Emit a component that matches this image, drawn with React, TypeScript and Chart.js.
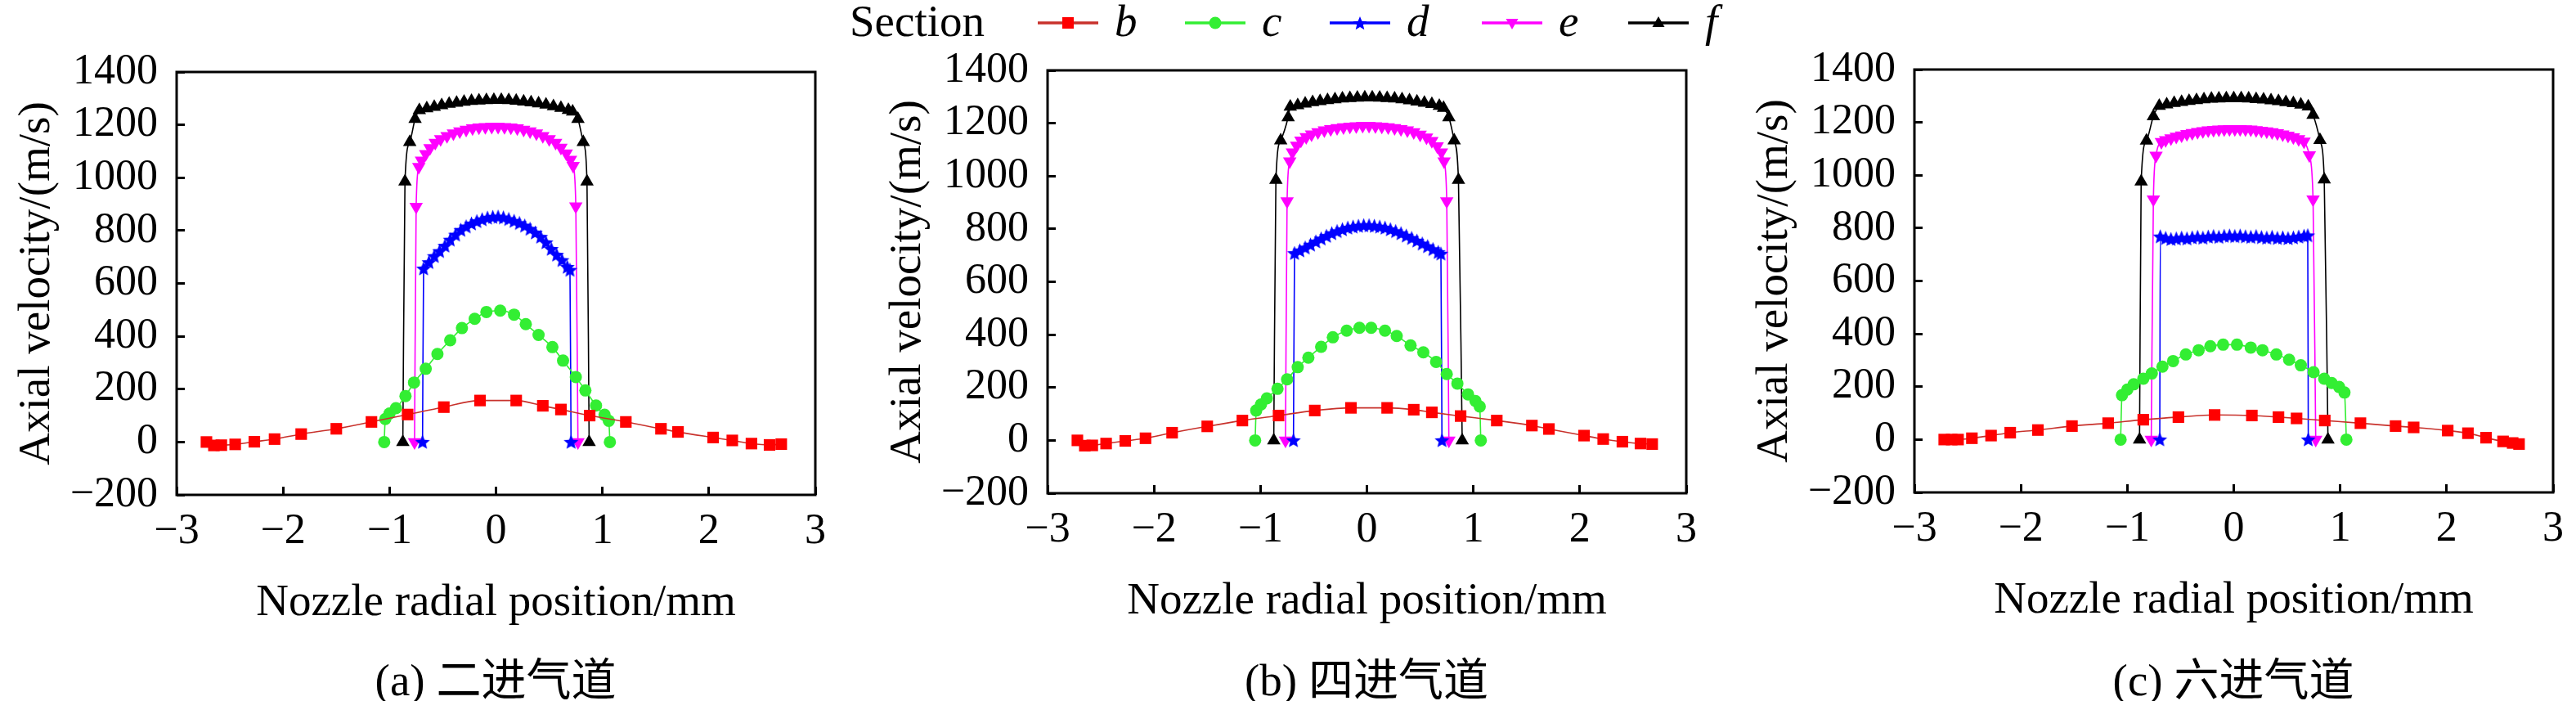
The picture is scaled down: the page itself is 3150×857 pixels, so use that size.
import { useEffect, useRef } from 'react';
import Chart from 'chart.js/auto';

const SERIF = "'Liberation Serif'";
const CJK = "'Noto Sans CJK SC'";

const sections = ['b', 'c', 'd', 'e', 'f'];
const captionTags = ['(a)', '(b)', '(c)'];
const captionNames = ['二进气道', '四进气道', '六进气道'];
const xTitle = 'Nozzle radial position/mm';
const yTitle = 'Axial velocity/(m/s)';

// ---- (a) 二进气道
const bX_a = [-2.72, -2.65, -2.58, -2.45, -2.27, -2.08, -1.83, -1.5, -1.17, -0.83, -0.49, -0.15, 0.19, 0.44, 0.61, 0.88, 1.22, 1.55, 1.71, 2.04, 2.22, 2.4, 2.57, 2.68];
const bY_a = [0, -13, -12, -9, 1, 11, 30, 50, 76, 104, 132, 157, 157, 137, 123, 100, 76, 50, 38, 17, 6, -6, -11, -8];
const cX_a = [-1.05, -1.04, -1.0, -0.94, -0.85, -0.77, -0.66, -0.55, -0.43, -0.32, -0.2, -0.09, 0.04, 0.17, 0.28, 0.4, 0.53, 0.63, 0.75, 0.84, 0.94, 1.02, 1.06, 1.07];
const cY_a = [0, 87, 108, 128, 174, 225, 277, 333, 385, 431, 466, 492, 497, 482, 446, 405, 359, 308, 246, 195, 138, 103, 80, 0];
const dX_a = [-0.69, -0.68, -0.63, -0.58, -0.53, -0.48, -0.43, -0.38, -0.33, -0.28, -0.23, -0.18, -0.13, -0.08, -0.03, 0.02, 0.07, 0.12, 0.17, 0.22, 0.27, 0.32, 0.37, 0.42, 0.47, 0.52, 0.57, 0.62, 0.67, 0.695, 0.705];
const dY_a = [0, 656, 680, 703, 722, 742, 765, 784, 802, 815, 826, 835, 842, 848, 851, 852, 849, 843, 836, 828, 818, 806, 792, 776, 755, 730, 708, 688, 662, 651, 0];
const eX_a = [-0.765, -0.75, -0.725, -0.7, -0.66, -0.62, -0.57, -0.52, -0.46, -0.4, -0.34, -0.28, -0.22, -0.16, -0.1, -0.04, 0.02, 0.08, 0.14, 0.2, 0.26, 0.32, 0.38, 0.44, 0.5, 0.56, 0.61, 0.66, 0.7, 0.725, 0.75, 0.77];
const eY_a = [0, 890, 1041, 1065, 1090, 1112, 1132, 1146, 1158, 1168, 1176, 1182, 1187, 1190, 1192, 1193, 1193, 1192, 1190, 1187, 1182, 1176, 1168, 1158, 1146, 1132, 1114, 1092, 1068, 1045, 892, 0];
const fX_a = [-0.875, -0.855, -0.81, -0.76, -0.72, -0.65, -0.58, -0.51, -0.44, -0.37, -0.3, -0.23, -0.16, -0.09, -0.02, 0.05, 0.12, 0.19, 0.26, 0.33, 0.4, 0.47, 0.54, 0.61, 0.68, 0.72, 0.77, 0.82, 0.855, 0.875];
const fY_a = [0, 985, 1135, 1222, 1255, 1262, 1268, 1274, 1279, 1283, 1287, 1290, 1292, 1293, 1294, 1294, 1293, 1291, 1288, 1285, 1281, 1276, 1270, 1264, 1256, 1250, 1222, 1135, 985, 0];

// ---- (b) 四进气道
const bX_b = [-2.72, -2.65, -2.58, -2.45, -2.27, -2.08, -1.83, -1.5, -1.17, -0.83, -0.49, -0.15, 0.19, 0.44, 0.61, 0.88, 1.22, 1.55, 1.71, 2.04, 2.22, 2.4, 2.57, 2.68];
const bY_b = [0, -20, -19, -12, -2, 8, 29, 53, 75, 94, 113, 123, 123, 116, 106, 92, 75, 56, 43, 18, 5, -5, -12, -14];
const cX_b = [-1.05, -1.04, -0.995, -0.94, -0.84, -0.75, -0.65, -0.55, -0.43, -0.32, -0.19, -0.07, 0.04, 0.17, 0.28, 0.41, 0.53, 0.65, 0.75, 0.85, 0.95, 1.02, 1.06, 1.07];
const cY_b = [0, 113, 136, 159, 195, 231, 277, 313, 354, 390, 415, 426, 426, 415, 395, 359, 333, 297, 251, 215, 174, 149, 128, 0];
const dX_b = [-0.69, -0.68, -0.63, -0.58, -0.53, -0.48, -0.43, -0.38, -0.33, -0.28, -0.23, -0.18, -0.13, -0.08, -0.03, 0.02, 0.07, 0.12, 0.17, 0.22, 0.27, 0.32, 0.37, 0.42, 0.47, 0.52, 0.57, 0.62, 0.67, 0.695, 0.705];
const dY_b = [0, 708, 718, 729, 740, 752, 763, 773, 783, 791, 798, 804, 808, 811, 813, 813, 811, 808, 804, 798, 791, 783, 774, 765, 755, 744, 734, 723, 712, 706, 0];
const eX_b = [-0.765, -0.75, -0.725, -0.7, -0.66, -0.62, -0.57, -0.52, -0.46, -0.4, -0.34, -0.28, -0.22, -0.16, -0.1, -0.04, 0.02, 0.08, 0.14, 0.2, 0.26, 0.32, 0.38, 0.44, 0.5, 0.56, 0.61, 0.66, 0.7, 0.725, 0.75, 0.77];
const eY_b = [0, 905, 1056, 1090, 1115, 1135, 1148, 1158, 1166, 1173, 1178, 1182, 1185, 1187, 1189, 1190, 1190, 1189, 1187, 1185, 1182, 1178, 1173, 1166, 1157, 1146, 1133, 1113, 1090, 1056, 905, 0];
const fX_b = [-0.875, -0.855, -0.81, -0.74, -0.72, -0.65, -0.58, -0.51, -0.44, -0.37, -0.3, -0.23, -0.16, -0.09, -0.02, 0.05, 0.12, 0.19, 0.26, 0.33, 0.4, 0.47, 0.54, 0.61, 0.68, 0.72, 0.77, 0.82, 0.86, 0.895];
const fY_b = [0, 985, 1135, 1222, 1262, 1268, 1274, 1279, 1283, 1287, 1290, 1293, 1295, 1296, 1297, 1297, 1296, 1295, 1293, 1290, 1286, 1282, 1277, 1272, 1265, 1258, 1222, 1135, 985, 0];

// ---- (c) 六进气道
const bX_c = [-2.72, -2.65, -2.59, -2.46, -2.28, -2.1, -1.84, -1.52, -1.18, -0.85, -0.52, -0.18, 0.17, 0.42, 0.59, 0.855, 1.19, 1.52, 1.69, 2.01, 2.2, 2.37, 2.53, 2.62, 2.68];
const bY_c = [0, 0, 0, 5, 15, 26, 36, 51, 62, 75, 85, 93, 91, 85, 80, 72, 62, 51, 46, 34, 24, 7, -7, -13, -17];
const cX_c = [-1.063, -1.05, -1.0, -0.94, -0.85, -0.77, -0.67, -0.57, -0.45, -0.33, -0.22, -0.1, 0.03, 0.16, 0.27, 0.4, 0.52, 0.63, 0.75, 0.85, 0.92, 0.99, 1.04, 1.058];
const cY_c = [0, 168, 189, 209, 230, 250, 276, 297, 322, 338, 353, 359, 359, 348, 338, 322, 302, 281, 255, 230, 214, 199, 178, 0];
const dX_c = [-0.695, -0.69, -0.64, -0.59, -0.54, -0.49, -0.44, -0.39, -0.34, -0.29, -0.24, -0.19, -0.14, -0.09, -0.04, 0.01, 0.06, 0.11, 0.16, 0.21, 0.26, 0.31, 0.36, 0.41, 0.46, 0.51, 0.56, 0.61, 0.66, 0.695, 0.7];
const dY_c = [0, 768, 762, 758, 760, 763, 760, 764, 766, 763, 767, 769, 766, 770, 771, 769, 771, 768, 766, 769, 765, 763, 766, 762, 764, 761, 764, 767, 770, 772, 0];
const eX_c = [-0.775, -0.755, -0.73, -0.68, -0.64, -0.59, -0.54, -0.49, -0.44, -0.39, -0.34, -0.29, -0.24, -0.19, -0.14, -0.09, -0.04, 0.01, 0.06, 0.11, 0.16, 0.21, 0.26, 0.31, 0.36, 0.41, 0.46, 0.51, 0.56, 0.61, 0.66, 0.71, 0.745, 0.77];
const eY_c = [0, 909, 1074, 1126, 1133, 1140, 1146, 1151, 1156, 1160, 1164, 1167, 1170, 1172, 1173, 1174, 1175, 1175, 1175, 1174, 1173, 1171, 1169, 1166, 1163, 1159, 1155, 1150, 1144, 1137, 1128, 1076, 909, 0];
const fX_c = [-0.885, -0.87, -0.82, -0.755, -0.7, -0.63, -0.56, -0.49, -0.42, -0.35, -0.28, -0.21, -0.14, -0.07, 0, 0.07, 0.14, 0.21, 0.28, 0.35, 0.42, 0.49, 0.56, 0.63, 0.7, 0.745, 0.81, 0.85, 0.885];
const fY_c = [0, 976, 1131, 1223, 1262, 1268, 1273, 1277, 1281, 1284, 1287, 1289, 1290, 1291, 1291, 1291, 1290, 1288, 1286, 1283, 1280, 1276, 1272, 1267, 1260, 1228, 1133, 984, 0];

const panelSeries = [
  [[bX_a, bY_a], [cX_a, cY_a], [dX_a, dY_a], [eX_a, eY_a], [fX_a, fY_a]],
  [[bX_b, bY_b], [cX_b, cY_b], [dX_b, dY_b], [eX_b, eY_b], [fX_b, fY_b]],
  [[bX_c, bY_c], [cX_c, cY_c], [dX_c, dY_c], [eX_c, eY_c], [fX_c, fY_c]],
];

const markerColors = ['#ff0000', '#33ee33', '#0000ff', '#ff00ff', '#000000'];
const lineColors = ['#c8322c', '#33ee33', '#0000ff', '#ff00ff', '#000000'];

// plot-area geometry of each panel in the page
const plotLeft = [216, 1281, 2341];
const plotTopShift = [0, -2, -3];
const Y_AXIS_W = 216;
const PLOT_W = 781;
const RIGHT_PAD = 60;
const CANVAS_W = Y_AXIS_W + PLOT_W + RIGHT_PAD;
const CANVAS_H = 771;

function starImage(color: string, r: number) {
  const c = document.createElement('canvas');
  const s = Math.ceil(r * 2) + 2;
  c.width = s;
  c.height = s;
  const g = c.getContext('2d')!;
  g.fillStyle = color;
  g.beginPath();
  for (let i = 0; i < 10; i++) {
    const rad = i % 2 === 0 ? r : r * 0.45;
    const a = -Math.PI / 2 + (i * Math.PI) / 5;
    const px = s / 2 + rad * Math.cos(a);
    const py = s / 2 + rad * Math.sin(a) + 0.6;
    if (i === 0) g.moveTo(px, py);
    else g.lineTo(px, py);
  }
  g.closePath();
  g.fill();
  return c;
}

const minus = (v: number | string) => String(v).replace('-', '\u2212');

const framePlugin = {
  id: 'frame',
  afterDraw(chart: Chart) {
    const { ctx, chartArea: a } = chart;
    ctx.save();
    ctx.strokeStyle = '#000';
    ctx.lineWidth = 3;
    ctx.strokeRect(a.left, a.top, a.right - a.left, a.bottom - a.top);
    ctx.restore();
  },
};

function Panel({ index }: { index: number }) {
  const canvasRef = useRef<HTMLCanvasElement>(null);

  useEffect(() => {
    if (!canvasRef.current) return;
    const star = starImage('#0000ff', 9.5);
    const styles: any[] = [
      { pointStyle: 'rect', pointRadius: 10, pointRotation: 0 },
      { pointStyle: 'circle', pointRadius: 7.5, pointRotation: 0 },
      { pointStyle: star, pointRadius: 9.5, pointRotation: 0 },
      { pointStyle: 'triangle', pointRadius: 9.5, pointRotation: 180 },
      { pointStyle: 'triangle', pointRadius: 9.5, pointRotation: 0 },
    ];

    const datasets = panelSeries[index].map(([xs, ys], i) => ({
      label: sections[i],
      data: xs.map((x, k) => ({ x, y: ys[k] })),
      showLine: true,
      borderColor: lineColors[i],
      borderWidth: 1.6,
      backgroundColor: markerColors[i],
      pointBackgroundColor: markerColors[i],
      pointBorderColor: markerColors[i],
      pointBorderWidth: 0,
      cubicInterpolationMode: 'monotone' as const,
      ...styles[i],
    }));

    const chart = new Chart(canvasRef.current, {
      type: 'scatter',
      data: { datasets },
      options: {
        responsive: false,
        animation: false,
        layout: { padding: { left: 0, top: 88, right: RIGHT_PAD, bottom: 0 } },
        plugins: { legend: { display: false }, tooltip: { enabled: false } },
        scales: {
          x: {
            type: 'linear',
            min: -3,
            max: 3,
            afterFit: (s: any) => {
              s.height = CANVAS_H - 605;
            },
            ticks: {
              stepSize: 1,
              autoSkip: false,
              maxRotation: 0,
              padding: 24,
              color: '#000',
              font: { family: SERIF, size: 52 },
              callback: (v: any) => minus(v),
            },
            grid: { drawOnChartArea: false, drawTicks: true, tickLength: -10, tickWidth: 3, tickColor: '#000' },
            border: { display: false },
            title: {
              display: true,
              text: xTitle,
              color: '#000',
              font: { family: SERIF, size: 55 },
              padding: 0,
            },
          },
          y: {
            type: 'linear',
            min: -200,
            max: 1400,
            afterFit: (s: any) => {
              s.width = Y_AXIS_W;
            },
            ticks: {
              stepSize: 200,
              autoSkip: false,
              padding: 33,
              color: '#000',
              font: { family: SERIF, size: 52 },
              callback: (v: any) => minus(v),
            },
            grid: { drawOnChartArea: false, drawTicks: true, tickLength: -10, tickWidth: 3, tickColor: '#000' },
            border: { display: false },
            title: {
              display: true,
              text: yTitle,
              color: '#000',
              font: { family: SERIF, size: 55 },
              padding: { top: 13, bottom: 0 },
            },
          },
        },
      },
      plugins: [framePlugin],
    });

    return () => chart.destroy();
  }, [index]);

  return (
    <canvas
      ref={canvasRef}
      width={CANVAS_W}
      height={CANVAS_H}
      style={{
        position: 'absolute',
        left: plotLeft[index] - Y_AXIS_W,
        top: plotTopShift[index],
        width: CANVAS_W,
        height: CANVAS_H,
      }}
    />
  );
}

function LegendMarker({ i }: { i: number }) {
  const col = markerColors[i];
  const cx = 37;
  const cy = 15;
  let shape = null;
  if (i === 0) shape = <rect x={cx - 7} y={cy - 7} width={14} height={14} fill={col} />;
  if (i === 1) shape = <circle cx={cx} cy={cy} r={7.5} fill={col} />;
  if (i === 2) {
    const pts = [];
    for (let k = 0; k < 10; k++) {
      const r = k % 2 === 0 ? 9 : 4;
      const a = -Math.PI / 2 + (k * Math.PI) / 5;
      pts.push(`${cx + r * Math.cos(a)},${cy + 1 + r * Math.sin(a)}`);
    }
    shape = <polygon points={pts.join(' ')} fill={col} />;
  }
  if (i === 3) shape = <polygon points={`${cx - 7.5},${cy - 5} ${cx + 7.5},${cy - 5} ${cx},${cy + 8}`} fill={col} />;
  if (i === 4) shape = <polygon points={`${cx - 7.5},${cy + 5} ${cx + 7.5},${cy + 5} ${cx},${cy - 8}`} fill={col} />;
  return (
    <svg width={74} height={30} style={{ position: 'absolute', left: 0, top: 0 }}>
      <line x1={0} y1={cy} x2={74} y2={cy} stroke={lineColors[i]} strokeWidth={3.5} />
      {shape}
    </svg>
  );
}

const legendLeft = [1269, 1449, 1626, 1812, 1991];

export default function App() {
  return (
    <div
      style={{
        position: 'absolute',
        left: 0,
        top: 0,
        width: 3150,
        height: 857,
        background: '#fff',
        overflow: 'hidden',
        fontFamily: SERIF,
        color: '#000',
      }}
    >
      <div style={{ position: 'absolute', left: 1039, top: -2, fontSize: 55, lineHeight: '55px', whiteSpace: 'nowrap', fontFamily: SERIF }}>
        Section
      </div>
      {sections.map((s, i) => (
        <div key={s} style={{ position: 'absolute', left: legendLeft[i], top: 13, width: 140, height: 30 }}>
          <LegendMarker i={i} />
          <span
            style={{
              position: 'absolute',
              left: 94,
              top: -15,
              fontSize: 55,
              lineHeight: '55px',
              fontStyle: 'italic',
              fontFamily: SERIF,
            }}
          >
            {s}
          </span>
        </div>
      ))}
      {[0, 1, 2].map((i) => (
        <Panel key={i} index={i} />
      ))}
      {captionTags.map((t, i) => (
        <div
          key={t}
          style={{
            position: 'absolute',
            left: plotLeft[i] + 390 - 300,
            width: 600,
            top: 793,
            textAlign: 'center',
            fontSize: 55,
            lineHeight: '66px',
            whiteSpace: 'nowrap',
            fontFamily: SERIF,
          }}
        >
          {t} <span style={{ fontFamily: CJK }}>{captionNames[i]}</span>
        </div>
      ))}
    </div>
  );
}
